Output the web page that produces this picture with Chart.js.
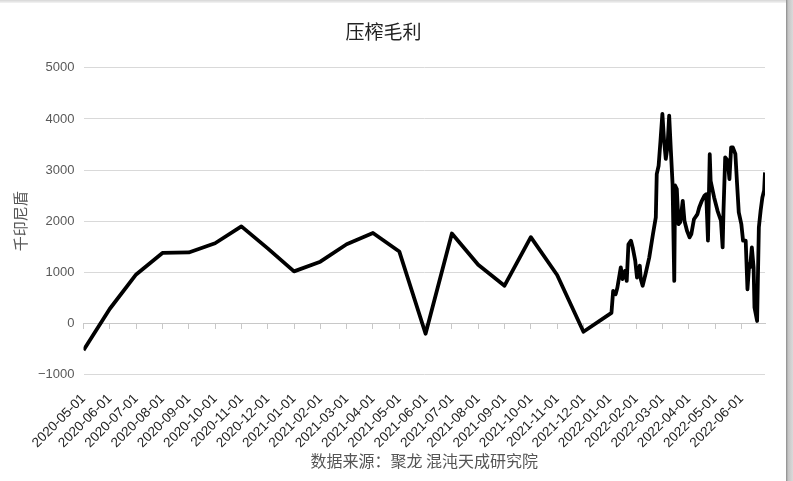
<!DOCTYPE html>
<html>
<head>
<meta charset="utf-8">
<script src="https://cdn.jsdelivr.net/npm/chart.js@4/dist/chart.umd.min.js"></script>
<style>
  html, body { margin: 0; padding: 0; background: #fff; }
  #wrap { position: relative; width: 793px; height: 481px; }
  #edge-top { position: absolute; left: 0; top: 0; width: 793px; height: 3px; background: linear-gradient(#d6d6d6, #f4f4f4); }
  #edge-right { position: absolute; right: 0; top: 0; width: 7px; height: 481px; background: linear-gradient(90deg, #8a8a8a, #c4c4c4 30%, #dadada); }
</style>
</head>
<body>
<div id="wrap">
  <canvas id="chart-canvas" width="793" height="481"></canvas>
  <div id="edge-top"></div>
  <div id="edge-right"></div>
</div>
<script>
// month tick labels on the x axis
const tickLabels = ['2020-05-01', '2020-06-01', '2020-07-01', '2020-08-01', '2020-09-01', '2020-10-01',
    '2020-11-01', '2020-12-01', '2021-01-01', '2021-02-01', '2021-03-01', '2021-04-01', '2021-05-01',
    '2021-06-01', '2021-07-01', '2021-08-01', '2021-09-01', '2021-10-01', '2021-11-01', '2021-12-01',
    '2022-01-01', '2022-02-01', '2022-03-01', '2022-04-01', '2022-05-01', '2022-06-01'];

// monthly values up to 2021-12
const monthlyDates = ['2020-05-01', '2020-06-01', '2020-07-01', '2020-08-01', '2020-09-01', '2020-10-01',
    '2020-11-01', '2020-12-01', '2021-01-01', '2021-02-01', '2021-03-01', '2021-04-01', '2021-05-01',
    '2021-06-01', '2021-07-01', '2021-08-01', '2021-09-01', '2021-10-01', '2021-11-01', '2021-12-01'];
const monthlyValues = [-520, 290, 960, 1380, 1390, 1570, 1900, 1470, 1020, 1210, 1550, 1770, 1410,
    -200, 1760, 1150, 740, 1690, 950, -160];

// daily values in 2022
const dailyDates = ['2022-01-03', '2022-01-05', '2022-01-08', '2022-01-10', '2022-01-14', '2022-01-16',
    '2022-01-19', '2022-01-21', '2022-01-23', '2022-01-26', '2022-01-28', '2022-01-31',
    '2022-02-02', '2022-02-05', '2022-02-06', '2022-02-08', '2022-02-11', '2022-02-15', '2022-02-19',
    '2022-02-22', '2022-02-23', '2022-02-25', '2022-02-27',
    '2022-03-01', '2022-03-03', '2022-03-05', '2022-03-07', '2022-03-09', '2022-03-11', '2022-03-13',
    '2022-03-15', '2022-03-16', '2022-03-18', '2022-03-20', '2022-03-22', '2022-03-25', '2022-03-27', '2022-03-30',
    '2022-04-02', '2022-04-04', '2022-04-07', '2022-04-11', '2022-04-13', '2022-04-16', '2022-04-19',
    '2022-04-21', '2022-04-23', '2022-04-25', '2022-04-26', '2022-04-30',
    '2022-05-04', '2022-05-08', '2022-05-10', '2022-05-11', '2022-05-13', '2022-05-16', '2022-05-18',
    '2022-05-20', '2022-05-22', '2022-05-25', '2022-05-27', '2022-05-29',
    '2022-06-01', '2022-06-03', '2022-06-06', '2022-06-08', '2022-06-10', '2022-06-11', '2022-06-13',
    '2022-06-15', '2022-06-16', '2022-06-19', '2022-06-21', '2022-06-23', '2022-06-25', '2022-06-27', '2022-06-28'];
const dailyValues = [210, 640, 575, 705, 1100, 870, 1030, 835, 1550, 1620, 1490, 1230,
    900, 1130, 870, 740, 965, 1290, 1750, 2075, 2920, 3085, 3575,
    4100, 3575, 3220, 3445, 4065, 3380, 2730, 835, 2700, 2630, 1945, 1980, 2400, 2010, 1815,
    1685, 1750, 2040, 2140, 2270, 2400, 2500, 2530, 1620, 3310, 2790, 2465,
    2205, 2010, 1490, 2205, 3250, 3185, 2825, 3445, 3445, 3315, 2730, 2175,
    1945, 1620, 1620, 670, 1160, 1100, 1490, 1100, 315, 50, 1880, 2205, 2465, 2600, 2955];

const yTicks = [-1000, 0, 1000, 2000, 3000, 4000, 5000];

// position in months counted from 2020-05-01
function monthPos(s) {
    let [y, m, d] = s.split('-').map(Number);
    let dim = new Date(y, m, 0).getDate();
    return (y - 2020) * 12 + (m - 5) + (d - 1) / dim;
}

let allDates = monthlyDates.concat(dailyDates);
let allValues = monthlyValues.concat(dailyValues);
let points = allDates.map((d, i) => ({ x: monthPos(d), y: allValues[i] }));
let xMax = monthPos(allDates[allDates.length - 1]);

const sourceNote = {
    id: 'sourceNote',
    afterDraw(chart) {
        let ctx = chart.ctx;
        let area = chart.chartArea;
        ctx.save();
        ctx.font = '16px "Noto Sans CJK SC"';
        ctx.fillStyle = '#555';
        ctx.textAlign = 'center';
        ctx.textBaseline = 'middle';
        ctx.fillText('数据来源：聚龙 混沌天成研究院', (area.left + area.right) / 2, 461);
        ctx.restore();
    }
};

let chartCanvas = document.getElementById('chart-canvas');

const myChart = new Chart(chartCanvas, {
    type: 'line',
    data: {
        datasets: [{
            label: '压榨毛利',
            data: points,
            borderColor: '#000',
            borderWidth: 3.8,
            borderJoinStyle: 'round',
            pointRadius: 0,
            tension: 0,
            fill: false
        }]
    },
    options: {
        responsive: false,
        animation: false,
        layout: { padding: { left: 2, right: 28, top: 0, bottom: 22 } },
        plugins: {
            legend: { display: false },
            tooltip: { enabled: false },
            title: {
                display: true,
                text: '压榨毛利',
                color: '#222',
                font: { family: '"Noto Sans CJK SC"', size: 19, weight: 'normal' },
                padding: { top: 20, bottom: 25 }
            }
        },
        scales: {
            x: {
                type: 'linear',
                min: 0,
                max: xMax,
                grid: { display: false },
                border: { display: false },
                ticks: {
                    stepSize: 1,
                    includeBounds: false,
                    autoSkip: false,
                    minRotation: 45,
                    maxRotation: 45,
                    padding: 8,
                    color: '#222',
                    font: { family: '"Liberation Sans"', size: 13.5 },
                    callback: v => tickLabels[v]
                }
            },
            x2: {
                type: 'linear',
                axis: 'x',
                position: { y: 0 },
                min: 0,
                max: xMax,
                grid: { drawOnChartArea: false, drawTicks: true, tickLength: 5, color: '#c8c8c8' },
                border: { display: true, color: '#c8c8c8', width: 1 },
                ticks: { stepSize: 1, includeBounds: false, autoSkip: false, display: false }
            },
            y: {
                min: -1000,
                max: 5000,
                afterBuildTicks: axis => { axis.ticks = yTicks.map(v => ({ value: v })); },
                grid: { color: '#d9d9d9', drawTicks: false },
                border: { display: false },
                ticks: {
                    padding: 9,
                    color: '#595959',
                    font: { family: '"Liberation Sans"', size: 13 },
                    callback: v => v < 0 ? '\u2212' + Math.abs(v) : String(v)
                },
                title: {
                    display: true,
                    text: '千印尼盾',
                    color: '#555',
                    font: { family: '"Noto Sans CJK SC"', size: 15 },
                    padding: { top: 9, bottom: 0 }
                }
            }
        }
    },
    plugins: [sourceNote]
});
</script>
</body>
</html>
